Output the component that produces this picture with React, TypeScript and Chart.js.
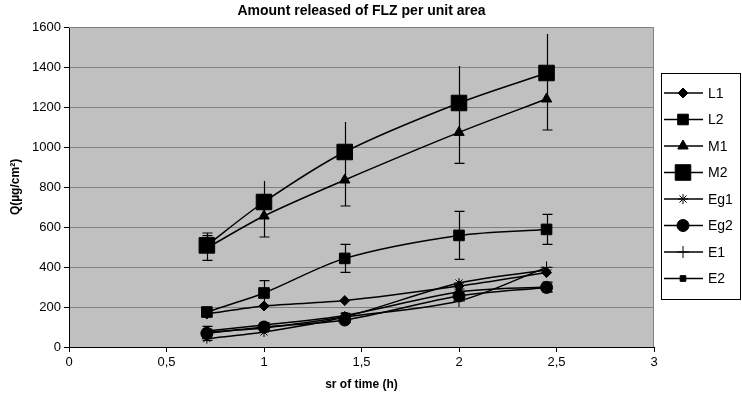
import React, { useEffect, useRef } from "react";
import { Chart, registerables } from "chart.js";
import { drawPoint } from "chart.js/helpers";

Chart.register(...registerables);

const timeSr = [0.707, 1, 1.414, 2, 2.449];
const xTicks = [0, 0.5, 1, 1.5, 2, 2.5, 3];

const seriesNames = ["L1", "L2", "M1", "M2", "Eg1", "Eg2", "E1", "E2"];
const L1 = [165, 205, 232, 305, 372];
const L2 = [175, 270, 443, 558, 588];
const M1 = [495, 655, 835, 1073, 1240];
const M2 = [508, 725, 975, 1220, 1370];
const Eg1 = [42, 75, 150, 320, 385];
const Eg2 = [68, 100, 135, 255, 298];
const E1 = [75, 95, 150, 230, 398];
const E2 = [80, 110, 158, 275, 300];

const L2err = [15, 62, 70, 120, 75];
const M1err = [62, 105, 130, 155, 155];
const M2errPlus = [62, 105, 150, 185, 195];
const Eg2err = [35, 15, 12, 20, 22];
const E2err = [10, 12, 10, 15, 25];

const seriesValues = [L1, L2, M1, M2, Eg1, Eg2, E1, E2];
const seriesStyles = [
  { pointStyle: "rectRot", radius: 5 },
  { pointStyle: "rect", radius: 7.5 },
  { pointStyle: "triangle", radius: 6 },
  { pointStyle: "rect", radius: 11 },
  { pointStyle: "star", radius: 5 },
  { pointStyle: "circle", radius: 6 },
  { pointStyle: "cross", radius: 6 },
  { pointStyle: "rect", radius: 4 },
];
const seriesErrors: Record<string, { plus?: number[]; minus?: number[]; cap: boolean[] }> = {
  L2: { plus: L2err, minus: L2err, cap: [true, true, true, true, true] },
  M1: { plus: M1err, minus: M1err, cap: [true, true, true, true, true] },
  M2: { plus: M2errPlus, cap: [true, false, false, false, false] },
  Eg2: { plus: Eg2err, minus: Eg2err, cap: [true, true, true, true, true] },
  E2: { plus: E2err, minus: E2err, cap: [true, true, true, true, true] },
};

const FONT = "'Liberation Sans', Arial, sans-serif";

const bgPlugin = {
  id: "bgPlugin",
  beforeDraw(chart: any) {
    const { ctx, chartArea: a } = chart;
    ctx.save();
    ctx.fillStyle = "#ffffff";
    ctx.fillRect(0, 0, chart.width, chart.height);
    ctx.fillStyle = "#c0c0c0";
    ctx.fillRect(a.left, a.top, a.right - a.left, a.bottom - a.top);
    ctx.restore();
  },
  beforeDatasetsDraw(chart: any) {
    const { ctx, chartArea: a } = chart;
    ctx.save();
    ctx.strokeStyle = "#808080";
    ctx.lineWidth = 1;
    ctx.beginPath();
    ctx.moveTo(a.left, a.top + 0.5);
    ctx.lineTo(a.right - 0.5, a.top + 0.5);
    ctx.lineTo(a.right - 0.5, a.bottom);
    ctx.stroke();
    ctx.restore();
  },
};

const errorPlugin = {
  id: "errorPlugin",
  afterDatasetsDraw(chart: any) {
    const { ctx } = chart;
    const yS = chart.scales.y;
    ctx.save();
    ctx.strokeStyle = "#000";
    ctx.lineWidth = 1.2;
    chart.data.datasets.forEach((ds: any, i: number) => {
      const e = seriesErrors[ds.label];
      if (!e) return;
      const meta = chart.getDatasetMeta(i);
      meta.data.forEach((pt: any, j: number) => {
        const v = ds.data[j].y;
        const x = Math.round(pt.x) + 0.5;
        const segs: number[] = [];
        if (e.plus) segs.push(v + e.plus[j]);
        if (e.minus) segs.push(v - e.minus[j]);
        segs.forEach((end) => {
          const y0 = yS.getPixelForValue(v);
          const y1 = yS.getPixelForValue(end);
          ctx.beginPath();
          ctx.moveTo(x, y0);
          ctx.lineTo(x, y1);
          if (e.cap[j]) {
            ctx.moveTo(x - 5, y1);
            ctx.lineTo(x + 5, y1);
          }
          ctx.stroke();
        });
      });
    });
    ctx.restore();
  },
};

const textPlugin = {
  id: "textPlugin",
  afterDraw(chart: any) {
    const { ctx, chartArea: a } = chart;
    ctx.save();
    ctx.fillStyle = "#000";
    ctx.font = `bold 14px ${FONT}`;
    ctx.textAlign = "center";
    ctx.textBaseline = "middle";
    ctx.fillText("Amount released of FLZ per unit area", (a.left + a.right) / 2, 11);

    // legend
    const lx = 661, ly = 73, lw = 80, lh = 227;
    ctx.fillStyle = "#ffffff";
    ctx.fillRect(lx, ly, lw, lh);
    ctx.strokeStyle = "#000";
    ctx.lineWidth = 1;
    ctx.strokeRect(lx + 0.5, ly + 0.5, lw - 1, lh - 1);
    ctx.font = `14px ${FONT}`;
    ctx.textAlign = "left";
    seriesNames.forEach((name, i) => {
      const y = ly + 20 + i * 26.5;
      ctx.strokeStyle = "#000";
      ctx.lineWidth = 1.5;
      ctx.beginPath();
      ctx.moveTo(lx + 3, y);
      ctx.lineTo(lx + 42, y);
      ctx.stroke();
      ctx.fillStyle = "#000";
      ctx.lineWidth = 1;
      const st = seriesStyles[i];
      drawPoint(ctx, { pointStyle: st.pointStyle as any, radius: st.radius, rotation: 0, borderWidth: 1 }, lx + 22, y);
      ctx.fillStyle = "#000";
      ctx.fillText(name, lx + 47, y + 1);
    });
    ctx.restore();
  },
};

export default function App() {
  const ref = useRef<HTMLCanvasElement | null>(null);
  useEffect(() => {
    if (!ref.current) return;
    const datasets = seriesNames.map((name, i) => ({
      label: name,
      data: timeSr.map((x, j) => ({ x, y: seriesValues[i][j] })),
      showLine: true,
      borderColor: "#000",
      backgroundColor: "#000",
      borderWidth: 1.5,
      tension: 0.3,
      pointStyle: seriesStyles[i].pointStyle,
      pointRadius: seriesStyles[i].radius,
      pointHoverRadius: seriesStyles[i].radius,
      pointBorderWidth: 1,
      pointBorderColor: "#000",
      pointBackgroundColor: "#000",
    }));
    const chart = new Chart(ref.current, {
      type: "scatter",
      data: { datasets } as any,
      plugins: [bgPlugin, errorPlugin, textPlugin],
      options: {
        animation: false,
        responsive: true,
        maintainAspectRatio: false,
        layout: { padding: { left: 0, right: 88, top: 27, bottom: 0 } },
        plugins: { legend: { display: false }, title: { display: false }, tooltip: { enabled: false } },
        scales: {
          x: {
            type: "linear",
            min: 0,
            max: 3,
            afterBuildTicks: (s: any) => {
              s.ticks = xTicks.map((v) => ({ value: v }));
            },
            afterFit: (s: any) => {
              s.height = 53;
            },
            ticks: {
              font: { family: FONT, size: 13 },
              color: "#000",
              padding: 3,
              callback: (v: any) => String(v).replace(".", ","),
            },
            grid: { drawOnChartArea: false, drawTicks: true, tickLength: 5, color: "#000" },
            border: { color: "#000", width: 1 },
            title: {
              display: true,
              text: "sr of time (h)",
              font: { family: FONT, size: 12, weight: "bold" },
              color: "#000",
              padding: { top: 4, bottom: 8 },
            },
          },
          y: {
            type: "linear",
            min: 0,
            max: 1600,
            ticks: {
              stepSize: 200,
              font: { family: FONT, size: 13 },
              color: "#000",
              padding: 3,
              callback: (v: any) => String(v),
            },
            afterFit: (s: any) => {
              s.width = 69;
            },
            grid: { color: "#808080", tickColor: "#000", tickLength: 5, drawTicks: true },
            border: { color: "#000", width: 1 },
            title: {
              display: true,
              text: "Q(µg/cm²)",
              font: { family: FONT, size: 12, weight: "bold" },
              color: "#000",
              padding: { top: 8, bottom: 0 },
            },
          },
        },
      } as any,
    });
    return () => chart.destroy();
  }, []);
  return (
    <div style={{ position: "absolute", left: 0, top: 0, width: 742, height: 400 }}>
      <canvas ref={ref} />
    </div>
  );
}
